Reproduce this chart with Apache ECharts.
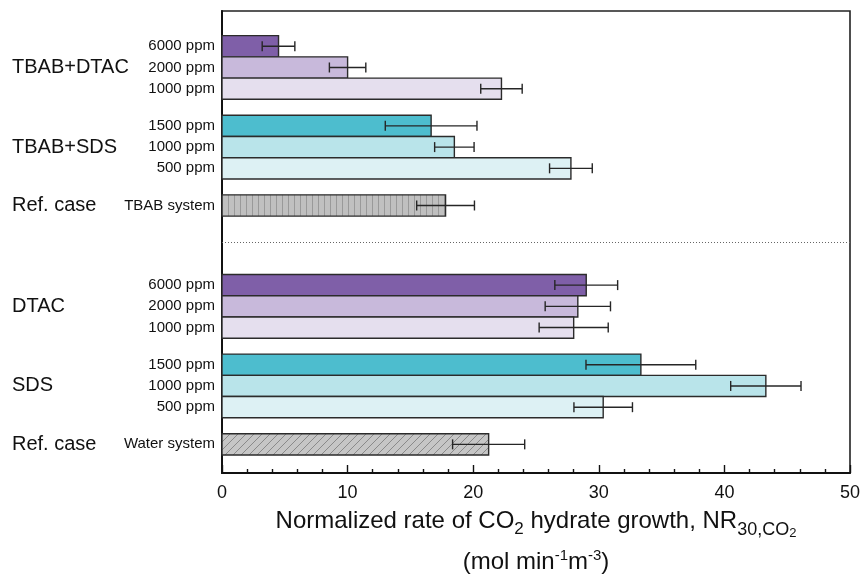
<!DOCTYPE html>
<html>
<head>
<meta charset="utf-8">
<script src="https://cdn.jsdelivr.net/npm/echarts@6/dist/echarts.min.js"></script>
<style>
  html, body { margin: 0; padding: 0; background: #fff; }
  #chart { width: 861px; height: 577px; }
</style>
</head>
<body>
<div id="chart"></div>
<script>
// Systems, top to bottom
const groupNames = ['TBAB+DTAC', 'TBAB+SDS', 'Ref. case', 'DTAC', 'SDS', 'Ref. case'];
const levelLabels = [
  ['6000 ppm', '2000 ppm', '1000 ppm'],
  ['1500 ppm', '1000 ppm', '500 ppm'],
  ['TBAB system'],
  ['6000 ppm', '2000 ppm', '1000 ppm'],
  ['1500 ppm', '1000 ppm', '500 ppm'],
  ['Water system']
];
// NR30,CO2 (mol min-1 m-3) and its standard deviation
const rateValues = [
  [4.5, 10.0, 22.25],
  [16.65, 18.5, 27.78],
  [17.8],
  [29.0, 28.33, 28.0],
  [33.35, 43.3, 30.35],
  [21.23]
];
const rateErrors = [
  [1.3, 1.45, 1.65],
  [3.65, 1.57, 1.7],
  [2.3],
  [2.5, 2.6, 2.75],
  [4.37, 2.8, 2.33],
  [2.87]
];
const xTickValues = [0, 10, 20, 30, 40, 50];

// ---- styling ----
const FONT = '"Liberation Sans", Arial, sans-serif';
const purples = ['#7f5fa8', '#c8b9db', '#e5dfee'];
const teals = ['#4dbdce', '#b9e4ea', '#ddf1f4'];

function stripePattern() {
  const c = document.createElement('canvas');
  c.width = 6; c.height = 6;
  const g = c.getContext('2d');
  g.fillStyle = '#c0c0c0'; g.fillRect(0, 0, 6, 6);
  g.fillStyle = '#9a9a9a'; g.fillRect(0, 0, 1, 6);
  return c;
}
function hatchPattern() {
  const n = 8;
  const c = document.createElement('canvas');
  c.width = n; c.height = n;
  const g = c.getContext('2d');
  g.fillStyle = '#c6c6c6'; g.fillRect(0, 0, n, n);
  g.strokeStyle = '#8a8a8a'; g.lineWidth = 1;
  g.beginPath();
  g.moveTo(0, n); g.lineTo(n, 0);
  g.moveTo(-1, 1); g.lineTo(1, -1);
  g.moveTo(n - 1, n + 1); g.lineTo(n + 1, n - 1);
  g.stroke();
  return c;
}
const groupFills = [
  purples, teals, [{ image: stripePattern(), repeat: 'repeat' }],
  purples, teals, [{ image: hatchPattern(), repeat: 'repeat' }]
];

// ---- vertical layout in bar-height units ----
const TOP_PAD = 1.16, GROUP_GAP = 0.75, HALF_GAP = 2.75, BOTTOM_PAD = 0.85;
const barItems = [];
const groupItems = [];
let cursor = TOP_PAD;
let dividerY = 0;
groupNames.forEach(function (name, gi) {
  if (gi === 3) { dividerY = cursor + 1.23; cursor += HALF_GAP; }
  else if (gi > 0) cursor += GROUP_GAP;
  const start = cursor;
  levelLabels[gi].forEach(function (lab, li) {
    barItems.push({
      value: [rateValues[gi][li], cursor + 0.5, rateErrors[gi][li]],
      label: lab,
      fill: groupFills[gi][li]
    });
    cursor += 1;
  });
  groupItems.push({ value: [0, (start + cursor) / 2], name: name });
});
const yMax = cursor + BOTTOM_PAD;

function renderBar(params, api) {
  const item = barItems[params.dataIndex];
  const v = api.value(0), yc = api.value(1), err = api.value(2);
  const p0 = api.coord([0, yc - 0.5]);
  const p1 = api.coord([v, yc + 0.5]);
  const mid = api.coord([v, yc]);
  const lo = api.coord([v - err, yc]);
  const hi = api.coord([v + err, yc]);
  const cap = 5;
  const errStyle = { stroke: '#262626', lineWidth: 1.4 };
  return {
    type: 'group',
    children: [
      {
        type: 'rect',
        shape: { x: p0[0], y: p0[1], width: p1[0] - p0[0], height: p1[1] - p0[1] },
        style: { fill: item.fill, stroke: '#2b2b2b', lineWidth: 1.4 }
      },
      { type: 'line', shape: { x1: lo[0], y1: mid[1], x2: hi[0], y2: mid[1] }, style: errStyle },
      { type: 'line', shape: { x1: lo[0], y1: mid[1] - cap, x2: lo[0], y2: mid[1] + cap }, style: errStyle },
      { type: 'line', shape: { x1: hi[0], y1: mid[1] - cap, x2: hi[0], y2: mid[1] + cap }, style: errStyle },
      {
        type: 'text',
        x: p0[0] - 7, y: mid[1],
        style: {
          text: item.label, fill: '#111', font: '15px ' + FONT,
          align: 'right', verticalAlign: 'middle'
        }
      }
    ]
  };
}

function renderGroupLabel(params, api) {
  const item = groupItems[params.dataIndex];
  const pt = api.coord([0, api.value(1)]);
  return {
    type: 'text',
    x: 12, y: pt[1],
    style: {
      text: item.name, fill: '#111', font: '20px ' + FONT,
      align: 'left', verticalAlign: 'middle'
    }
  };
}

// rich-text pieces for the axis title: main text, subscripts, superscripts
const LH = 41;
const richTitle = {
  t: { fontSize: 24, lineHeight: LH, fontFamily: FONT, color: '#111' },
  s: { fontSize: 17, lineHeight: LH, fontFamily: FONT, color: '#111', padding: [15, 0, 0, 0] },
  n: { fontSize: 18, lineHeight: LH, fontFamily: FONT, color: '#111', padding: [17, 0, 0, 0] },
  ss: { fontSize: 13, lineHeight: LH, fontFamily: FONT, color: '#111', padding: [24, 0, 0, 0] },
  p: { fontSize: 15, lineHeight: LH, fontFamily: FONT, color: '#111', padding: [0, 0, 14, 0] }
};

const chart = echarts.init(document.getElementById('chart'), null, { renderer: 'canvas' });
chart.setOption({
  animation: false,
  backgroundColor: '#fff',
  grid: {
    left: 222, right: 11, top: 11, bottom: 104,
    outerBoundsMode: 'none',
    show: true, borderColor: '#222', borderWidth: 1.6, backgroundColor: 'transparent'
  },
  xAxis: {
    type: 'value',
    min: xTickValues[0], max: xTickValues[xTickValues.length - 1],
    interval: xTickValues[1] - xTickValues[0],
    axisLine: { show: true, onZero: false, lineStyle: { color: '#111', width: 2 } },
    axisTick: { show: true, inside: true, length: 8, lineStyle: { color: '#111', width: 1.4 } },
    minorTick: { show: true, splitNumber: 5, length: 4, lineStyle: { color: '#111', width: 1.4 } },
    splitLine: { show: false },
    axisLabel: { color: '#111', fontSize: 18, fontFamily: FONT, margin: 11 },
    name: '{t|Normalized rate of CO}{s|2}{t| hydrate growth, NR}{n|30,CO}{ss|2}\n' +
          '{t|(mol min}{p|-1}{t|m}{p|-3}{t|)}',
    nameLocation: 'middle',
    nameGap: 28,
    nameMoveOverlap: false,
    nameTextStyle: { color: '#111', fontFamily: FONT, lineHeight: LH, rich: richTitle }
  },
  yAxis: {
    type: 'value',
    min: 0, max: yMax,
    inverse: true,
    axisLine: { show: true, onZero: false, lineStyle: { color: '#111', width: 2 } },
    axisTick: { show: false },
    axisLabel: { show: false },
    splitLine: { show: false }
  },
  series: [
    {
      type: 'custom',
      name: 'bars',
      renderItem: renderBar,
      clip: false,
      encode: { x: 0, y: 1 },
      data: barItems.map(function (d) { return d.value; }),
      markLine: {
        silent: true,
        symbol: 'none',
        label: { show: false },
        lineStyle: { color: '#666', width: 1, type: [1, 2] },
        data: [{ yAxis: dividerY }]
      }
    },
    {
      type: 'custom',
      name: 'groups',
      renderItem: renderGroupLabel,
      clip: false,
      encode: { x: 0, y: 1 },
      data: groupItems.map(function (d) { return d.value; })
    }
  ]
});
</script>
</body>
</html>
